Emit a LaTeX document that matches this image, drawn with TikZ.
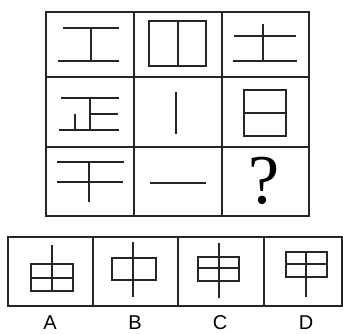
\documentclass[tikz,border=0pt]{standalone}
\usepackage{fontspec}
\setsansfont{Liberation Sans}
\newfontfamily\askfont{Liberation Serif}
\usepackage{tikz}

\tikzset{
    gridline/.style={draw=black!85, line width=1.5pt},
    glyph/.style={draw=black!85, line width=1.7pt, line cap=butt},
    optlabel/.style={font=\sffamily\fontsize{20}{20}\selectfont, inner sep=0pt}
}

\begin{document}
\begin{tikzpicture}[x=1pt,y=-1pt]
\useasboundingbox (0,0) rectangle (343,334);

% top 3x3 grid
\draw[gridline] (46,12) rectangle (309,216);
\draw[gridline] (134,12) -- (134,216) (222,12) -- (222,216);
\draw[gridline] (46,77) -- (309,77) (46,147) -- (309,147);

% row 1
\draw[glyph] (63,28) -- (119,28) (58,61) -- (119,61) (91,28) -- (91,61);
\draw[glyph] (149,21) rectangle (206,66) (178,21) -- (178,66);
\draw[glyph] (234,36) -- (296,36) (233,61) -- (297,61) (263,24) -- (263,61);

% row 2
\draw[glyph] (61,98) -- (119,98) (90,114) -- (118,114) (59,130) -- (119,130)
    (90,98) -- (90,130) (75,114) -- (75,130);
\draw[glyph] (176,92) -- (176,134);
\draw[glyph] (244,90) rectangle (286,136) (244,113) -- (286,113);

% row 3
\draw[glyph] (57,162) -- (124,162) (57,182) -- (123,182) (89,162) -- (89,202);
\draw[glyph] (150,183) -- (206,183);
\node[inner sep=0pt] (ask) at (264,181) {\askfont\fontsize{70}{70}\selectfont ?};

% options
\draw[gridline] (8,237) rectangle (342,306);
\draw[gridline] (93,237) -- (93,306) (178,237) -- (178,306) (264,237) -- (264,306);

\draw[glyph] (31,264) rectangle (73,291) (31,278) -- (73,278) (52,245) -- (52,291);
\draw[glyph] (112,258) rectangle (156,280) (133,242) -- (133,297);
\draw[glyph] (198,257) rectangle (239,281) (198,268) -- (239,268) (219,243) -- (219,298);
\draw[glyph] (286,252) rectangle (327,277) (286,264) -- (327,264) (306,252) -- (306,297);

\node[optlabel] (optA) at (50,323) {A};
\node[optlabel] (optB) at (135,323) {B};
\node[optlabel] (optC) at (220,323) {C};
\node[optlabel] (optD) at (306,323) {D};
\end{tikzpicture}
\end{document}
